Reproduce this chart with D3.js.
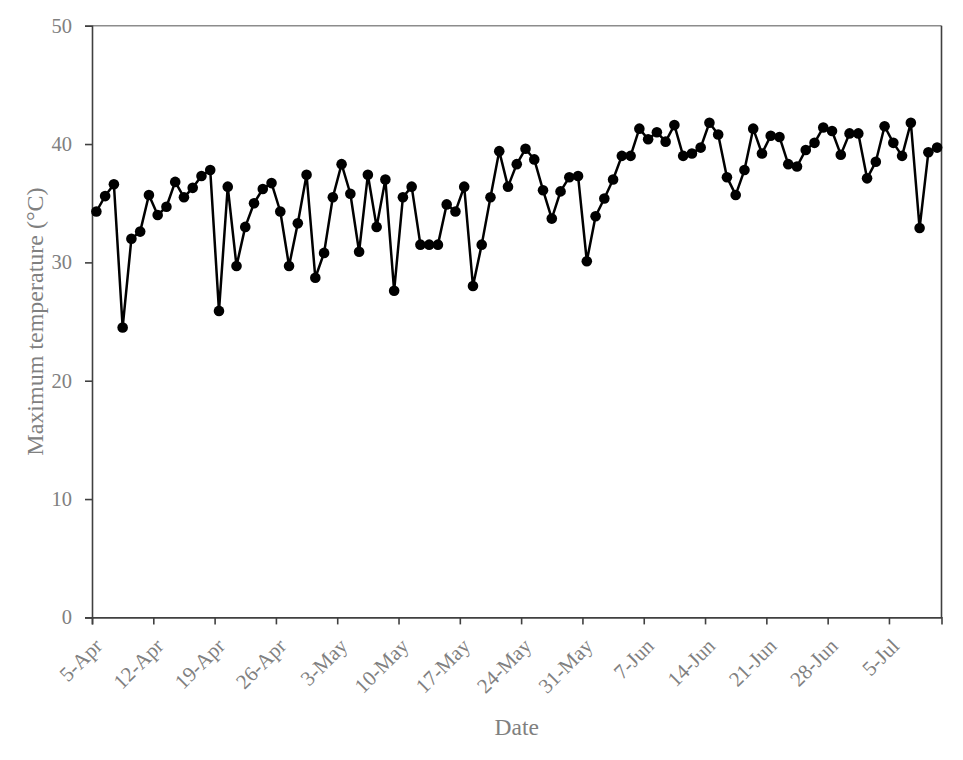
<!DOCTYPE html>
<html>
<head>
<meta charset="utf-8">
<script src="https://cdn.jsdelivr.net/npm/d3@7"></script>
<style>
  html, body { margin: 0; padding: 0; background: #fff; }
  svg { display: block; }
</style>
</head>
<body>
<svg id="chart" width="963" height="760"></svg>
<script>
// ---- data ----
const startDate = "2019-04-05";
const endDate = "2019-07-11";
const maxTemp = [
  34.3, 35.6, 36.6, 24.5, 32.0, 32.6, 35.7, 34.0, 34.7, 36.8,
  35.5, 36.3, 37.3, 37.8, 25.9, 36.4, 29.7, 33.0, 35.0, 36.2,
  36.7, 34.3, 29.7, 33.3, 37.4, 28.7, 30.8, 35.5, 38.3, 35.8,
  30.9, 37.4, 33.0, 37.0, 27.6, 35.5, 36.4, 31.5, 31.5, 31.5,
  34.9, 34.3, 36.4, 28.0, 31.5, 35.5, 39.4, 36.4, 38.3, 39.6,
  38.7, 36.1, 33.7, 36.0, 37.2, 37.3, 30.1, 33.9, 35.4, 37.0,
  39.0, 39.0, 41.3, 40.4, 41.0, 40.2, 41.6, 39.0, 39.2, 39.7,
  41.8, 40.8, 37.2, 35.7, 37.8, 41.3, 39.2, 40.7, 40.6, 38.3,
  38.1, 39.5, 40.1, 41.4, 41.1, 39.1, 40.9, 40.9, 37.1, 38.5,
  41.5, 40.1, 39.0, 41.8, 32.9, 39.3, 39.7
];
const xTickLabels = ["5-Apr","12-Apr","19-Apr","26-Apr","3-May","10-May","17-May",
  "24-May","31-May","7-Jun","14-Jun","21-Jun","28-Jun","5-Jul"];
const yTicks = [0, 10, 20, 30, 40, 50];
const xTitle = "Date";
const yTitle = "Maximum temperature (\u00B0C)";

(function () {
// ---- layout ----
const svg = d3.select("#chart");
const pL = 92, pR = 941.5, pT = 25.7, pB = 617.4;

const parse = d3.utcParse("%Y-%m-%d");
const d0 = parse(startDate), d1 = parse(endDate);
const dates = d3.utcDay.range(d0, d3.utcDay.offset(d0, maxTemp.length));
const data = dates.map((d, i) => ({ date: d, value: maxTemp[i] }));
const tickDates = xTickLabels.map((_, i) => d3.utcDay.offset(d0, 7 * i));

const x = d3.scaleUtc().domain([d0, d1]).range([pL, pR]);
const y = d3.scaleLinear().domain([0, 50]).range([pB, pT]);
const mid = d => d3.utcHour.offset(d, 12);

const textColor = "#808080";
const font = "'Liberation Serif', 'Times New Roman', serif";

// plot border (top & right)
svg.append("line").attr("x1", pL).attr("x2", pR).attr("y1", pT).attr("y2", pT)
  .attr("stroke", "#8c8c8c").attr("stroke-width", 1.6);
svg.append("line").attr("x1", pR).attr("x2", pR).attr("y1", pT).attr("y2", pB)
  .attr("stroke", "#404040").attr("stroke-width", 1.6);

// y axis
const yAxis = svg.append("g").attr("transform", `translate(${pL},0)`)
  .call(d3.axisLeft(y).tickValues(yTicks).tickSize(7).tickPadding(13).tickFormat(d3.format("d")));
yAxis.select(".domain").attr("stroke", "#404040").attr("stroke-width", 1.6);
yAxis.selectAll(".tick line").attr("stroke", "#404040").attr("stroke-width", 1.6);
yAxis.selectAll(".tick text").attr("fill", textColor).attr("font-family", font).attr("font-size", 20.5);

// x axis
const xAxis = svg.append("g").attr("transform", `translate(0,${pB})`)
  .call(d3.axisBottom(x).tickValues(tickDates).tickSize(7)
    .tickFormat((d, i) => xTickLabels[i]));
xAxis.select(".domain").attr("stroke", "#404040").attr("stroke-width", 1.6);
xAxis.selectAll(".tick line").attr("stroke", "#404040").attr("stroke-width", 1.6);
xAxis.selectAll(".tick text")
  .attr("fill", textColor).attr("font-family", font).attr("font-size", 21)
  .attr("text-anchor", "end")
  .attr("dy", null).attr("y", null)
  .attr("transform", "translate(11,30) rotate(-45)");

// axis titles
svg.append("text").attr("x", (pL + pR) / 2).attr("y", 735)
  .attr("text-anchor", "middle").attr("fill", textColor)
  .attr("font-family", font).attr("font-size", 23.5).text(xTitle);
svg.append("text")
  .attr("transform", `translate(43,${(pT + pB) / 2}) rotate(-90)`)
  .attr("text-anchor", "middle").attr("fill", textColor)
  .attr("font-family", font).attr("font-size", 24).text(yTitle);

// line + markers
const line = d3.line().x(d => x(mid(d.date))).y(d => y(d.value));
svg.append("path").datum(data).attr("d", line)
  .attr("fill", "none").attr("stroke", "#000").attr("stroke-width", 2.5)
  .attr("stroke-linejoin", "round");
svg.append("g").selectAll("circle").data(data).join("circle")
  .attr("cx", d => x(mid(d.date))).attr("cy", d => y(d.value))
  .attr("r", 5.3).attr("fill", "#000");
})();
</script>
</body>
</html>
